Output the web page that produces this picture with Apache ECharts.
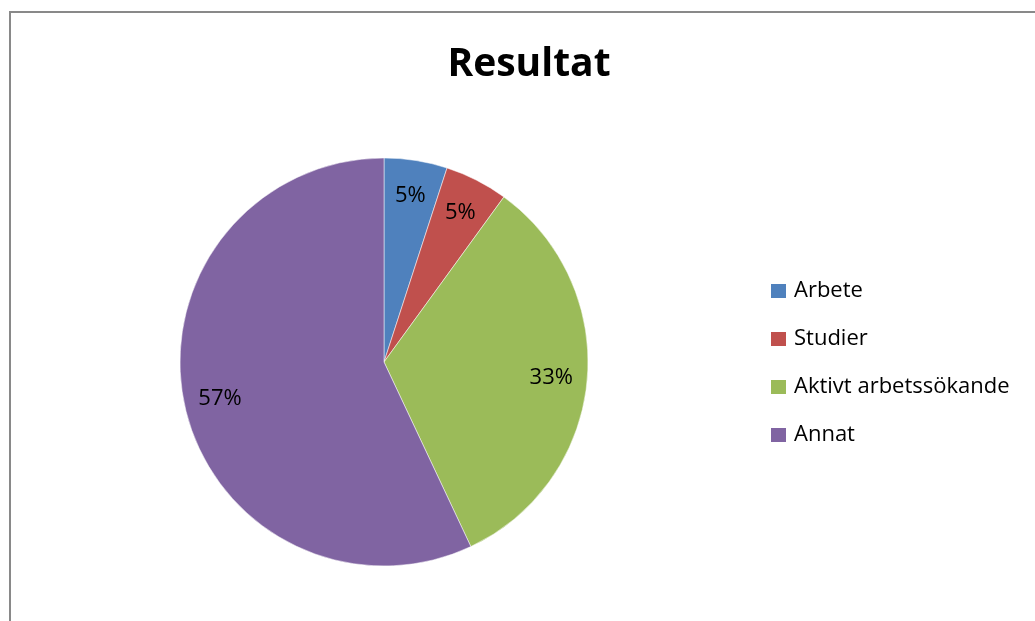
<!DOCTYPE html>
<html>
<head>
<meta charset="utf-8">
<script src="https://cdn.jsdelivr.net/npm/echarts@6/dist/echarts.min.js"></script>
<style>
html,body{margin:0;padding:0;background:#fff;}
#main{width:1035px;height:621px;}
</style>
</head>
<body>
<div id="main"></div>
<script>
const categories = ["Arbete", "Studier", "Aktivt arbetssökande", "Annat"];
const values = [5, 5, 33, 57];
const colors = ["#4F81BD", "#C0504D", "#9BBB59", "#8064A2"];
const titleText = "Resultat";

const FONT = "'Open Sans', Lato, sans-serif";
const chart = echarts.init(document.getElementById('main'), null, {renderer: 'canvas'});
const data = categories.map((c, i) => ({name: c, value: values[i]}));

chart.setOption({
  animation: false,
  color: colors,
  title: {
    text: titleText,
    left: 529, top: 45, textAlign: 'center', padding: 0,
    textStyle: {fontFamily: FONT, fontWeight: 'bold', fontSize: 39, color: '#000'}
  },
  graphic: [{
    type: 'rect',
    shape: {x: 10, y: 12, width: 1040, height: 630},
    style: {fill: 'none', stroke: '#898989', lineWidth: 2},
    silent: true
  }],
  legend: {
    orient: 'vertical',
    left: 771, top: 278, padding: 0,
    itemWidth: 15, itemHeight: 14, itemGap: 22,
    icon: 'rect',
    itemStyle: {borderWidth: 0},
    textStyle: {fontFamily: FONT, fontSize: 22, color: '#000', lineHeight: 26, padding: [0,0,0,3]},
    data: categories
  },
  series: [{
    type: 'pie',
    center: [384, 362],
    radius: [0, 204],
    startAngle: 90,
    clockwise: true,
    data: data,
    label: {show: false},
    labelLine: {show: false},
    itemStyle: {borderColor: '#fff', borderWidth: 0.5},
    emphasis: {disabled: true}
  }, {
    type: 'pie',
    center: [384, 362],
    radius: [126, 204],
    startAngle: 90,
    clockwise: true,
    data: data,
    silent: true,
    legendHoverLink: false,
    itemStyle: {color: 'rgba(0,0,0,0)', borderWidth: 0},
    label: {
      show: true, position: 'inside',
      formatter: p => Math.round(p.percent) + '%',
      fontFamily: FONT, fontSize: 22, color: '#000'
    },
    labelLine: {show: false},
    emphasis: {disabled: true}
  }]
});
</script>
</body>
</html>
